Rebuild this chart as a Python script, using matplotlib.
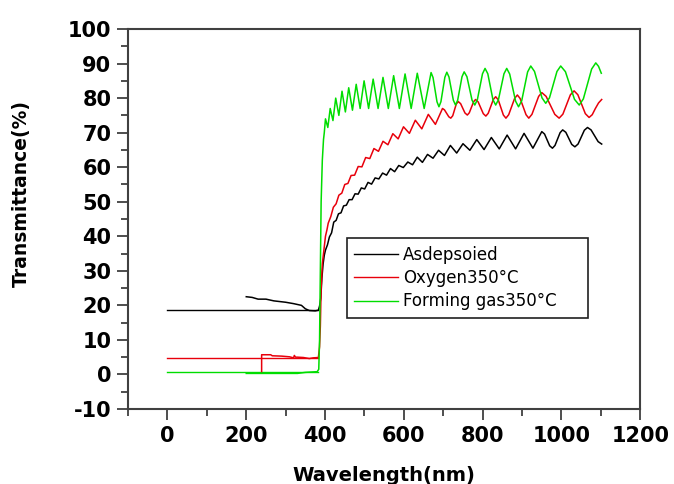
import matplotlib
matplotlib.use("Agg")
import matplotlib.pyplot as plt
from matplotlib.ticker import MultipleLocator

plt.rcParams["axes.unicode_minus"] = False

# flat segments drawn from 0 nm up to the absorption edge
base_wl = [0, 383]
black_base = [18.6, 18.6]
red_base = [4.9, 4.9]
green_base = [0.8, 0.8]

# As-deposited film
black_wl = [200, 215, 230, 250, 270, 300, 320, 340, 350, 360, 375, 383, 386, 389, 392, 395, 398,
            401, 406, 411, 416.5, 422, 428, 434, 440.5, 447, 454, 461, 468.5, 476, 484, 492, 500.5,
            509, 518, 527, 536.5, 546, 556, 566, 576.5, 587, 598.5, 610, 622, 634, 647, 660, 674,
            688, 703, 718, 734, 750, 767.5, 785, 803.5, 822, 842, 862, 883.5, 905, 927.5, 950, 957,
            963.5, 970, 977, 983.5, 990, 996.5, 1003, 1011, 1018.5, 1026, 1034, 1042, 1050, 1058,
            1066, 1075, 1084, 1093, 1102]
black_t = [22.5, 22.3, 21.8, 21.8, 21.3, 20.9, 20.5, 20.0, 19.0, 18.5, 18.4, 18.6, 19.8, 22.0, 28.0, 32.0, 34.5,
           36.0, 37.5, 39.8, 41.0, 44.1, 44.6, 46.5, 46.8, 48.8, 49.0, 50.6, 50.6, 52.3, 52.2, 54.0, 53.7,
           55.6, 55.1, 56.9, 56.6, 58.3, 57.7, 59.6, 58.7, 60.5, 59.9, 61.5, 60.7, 62.9, 61.4, 63.7, 62.6,
           64.9, 63.4, 66.3, 64.1, 66.8, 64.9, 68.0, 65.1, 68.6, 65.3, 69.3, 65.3, 69.8, 65.5, 70.3, 69.6,
           67.9, 66.2, 65.5, 66.3, 68.15, 70.0, 70.8, 70.1, 68.35, 66.6, 65.9, 66.7, 68.7, 70.7,
           71.5, 70.8, 69.1, 67.4, 66.7]

# annealed in oxygen
red_wl = [239, 239, 262, 266, 290, 310, 320, 322, 325, 330, 345, 360, 370, 383, 386, 388, 390, 393, 397, 401, 405,
          408, 414.5, 421, 428, 435, 442.5, 450, 458, 466, 475, 484, 493.5, 503, 513.5, 524, 535.5, 547,
          559.5, 572, 585.5, 599, 614, 629, 645.5, 662, 680, 698, 703, 708.5, 714, 719, 724, 728.5, 733,
          738, 744, 749.5, 755, 761, 766, 771.5, 777, 782, 788.5, 795, 801.5, 808, 814, 820.5, 827, 833,
          839.5, 846, 852.5, 859, 866, 873.5, 881, 888, 895, 902.5, 910, 917, 925, 933.5, 942, 950, 961,
          972, 983, 994, 1003.5, 1013, 1022.5, 1032, 1041.5, 1051, 1060.5, 1070, 1078, 1086, 1094, 1102]
red_t = [0.8, 5.7, 5.7, 5.4, 5.3, 5.1, 4.8, 5.5, 5.0, 5.0, 4.9, 4.6, 4.8, 4.9, 8.0, 14.0, 25.0, 32.0, 36.0, 40.0, 42.0,
         43.8, 45.7, 48.4, 49.4, 51.9, 52.5, 55.0, 55.3, 57.6, 57.7, 60.2, 60.1, 62.8, 62.5, 65.4, 64.6, 67.5,
         66.5, 69.7, 68.2, 71.7, 69.8, 73.6, 71.1, 75.3, 72.4, 77.0, 76.6, 75.6, 74.6, 74.2, 74.9, 76.6, 78.3,
         79.0, 78.4, 77.05, 75.7, 75.1, 75.75, 77.35, 78.95, 79.6, 78.9, 77.2, 75.5, 74.8, 75.6, 77.6, 79.6, 80.4,
         79.5, 77.3, 75.1, 74.2, 75.2, 77.55, 79.9, 80.9, 79.9, 77.55, 75.2, 74.2, 75.3, 77.9, 80.5, 81.6, 80.5,
         77.9, 75.3, 74.2, 75.35, 78.15, 80.95, 82.1, 80.98, 78.25, 75.5, 74.4, 75.2, 77.0, 78.6, 79.6]

# annealed in forming gas
green_wl = [200, 330, 350, 380, 384, 386, 388, 390, 393, 396, 398,
            401, 407, 413, 420, 427, 435, 443, 451.5, 460, 469.5, 479, 489, 499, 510.5, 522, 534.5, 547,
            560.5, 574, 588.5, 603, 618.5, 634, 651.5, 669, 674, 679, 684, 689, 694, 699, 704, 709, 714.5,
            720, 725.5, 731, 736.5, 742, 747.5, 753, 760, 766.5, 773, 780, 786.5, 793, 799.5, 806, 813,
            819.5, 826, 833, 840, 847, 854, 861, 868.5, 876, 883.5, 891, 899, 906.5, 914, 922, 931.5, 941,
            950.5, 960, 969.5, 979, 988.5, 998, 1010, 1021.5, 1033, 1045, 1055.5, 1066, 1076.5, 1087, 1094, 1101]
green_t = [0.3, 0.3, 0.6, 0.8, 1.5, 10, 30, 50, 62, 68, 70,
           74, 71.5, 77, 73.5, 80, 75, 82, 76, 83, 76.5, 84, 77, 85, 77, 85.5, 77, 86,
           77, 86.5, 77, 87, 77, 87.2, 77, 87.4, 85.95, 82.45, 78.95, 77.5, 78.96, 82.5, 86.04, 87.5, 86.1,
           82.75, 79.4, 78, 79.4, 82.8, 86.2, 87.6, 86.2, 82.8, 79.4, 78, 79.55, 83.3, 87.05, 88.6, 87.05,
           83.3, 79.55, 78, 79.55, 83.3, 87.05, 88.6, 86.98, 83.05, 79.12, 77.5, 79.22, 83.4, 87.58, 89.3, 87.72, 83.9,
           80.08, 78.5, 80.08, 83.9, 87.72, 89.3, 87.65, 83.65, 79.65, 78, 79.78, 84.1, 88.42, 90.2, 89.2, 87.2]

labels = ["Asdepsoied", "Oxygen350°C", "Forming gas350°C"]
x_ticks = [0, 200, 400, 600, 800, 1000, 1200]
y_ticks = [-10, 0, 10, 20, 30, 40, 50, 60, 70, 80, 90, 100]

c_black, c_red, c_green = "#000000", "#e8000b", "#00dd00"
frame = "#404040"

fig = plt.figure(figsize=(6.74, 4.84), dpi=100)
ax = fig.add_axes([0.190, 0.155, 0.760, 0.785])

ax.plot(base_wl, black_base, color=c_black, lw=1.0)
ax.plot(base_wl, red_base, color=c_red, lw=1.0)
ax.plot(base_wl, green_base, color=c_green, lw=1.0)
ax.plot(black_wl, black_t, color=c_black, lw=1.1, label=labels[0])
ax.plot(red_wl, red_t, color=c_red, lw=1.1, label=labels[1])
ax.plot(green_wl, green_t, color=c_green, lw=1.1, label=labels[2])

ax.set_xlim(-100, 1200)
ax.set_ylim(-10, 100)
ax.set_xticks(x_ticks)
ax.set_yticks(y_ticks)
ax.xaxis.set_minor_locator(MultipleLocator(100))
ax.yaxis.set_minor_locator(MultipleLocator(5))
ax.tick_params(which="both", direction="out", color=frame, width=1.3, top=False, right=False)
ax.tick_params(which="major", length=8, labelsize=15, pad=4)
ax.tick_params(which="minor", length=5)
for lab in ax.get_xticklabels() + ax.get_yticklabels():
    lab.set_fontweight("bold")
for sp in ax.spines.values():
    sp.set_color(frame)
    sp.set_linewidth(1.5)

ax.set_xlabel("Wavelength(nm)", fontsize=14, fontweight="bold")
ax.set_ylabel("Transmittance(%)", fontsize=13.5, fontweight="bold")
ax.xaxis.set_label_coords(0.5, -0.15)
ax.yaxis.set_label_coords(-0.189, 0.568)

# legend box: 347..588 px wide, top at 238 px
leg = ax.legend(loc="upper left",
                bbox_to_anchor=(347 / 674, 1 - 321 / 484, 241 / 674, 83 / 484),
                bbox_transform=fig.transFigure, mode="expand", borderaxespad=0, fontsize=12,
                handlelength=2.6, handletextpad=0.3, labelspacing=0.33, borderpad=0.45,
                fancybox=False, framealpha=1)
leg.get_frame().set_edgecolor("#202020")
leg.get_frame().set_linewidth(1.2)
for line in leg.get_lines():
    line.set_linewidth(1.0)

fig.savefig("out.png", dpi=100)
